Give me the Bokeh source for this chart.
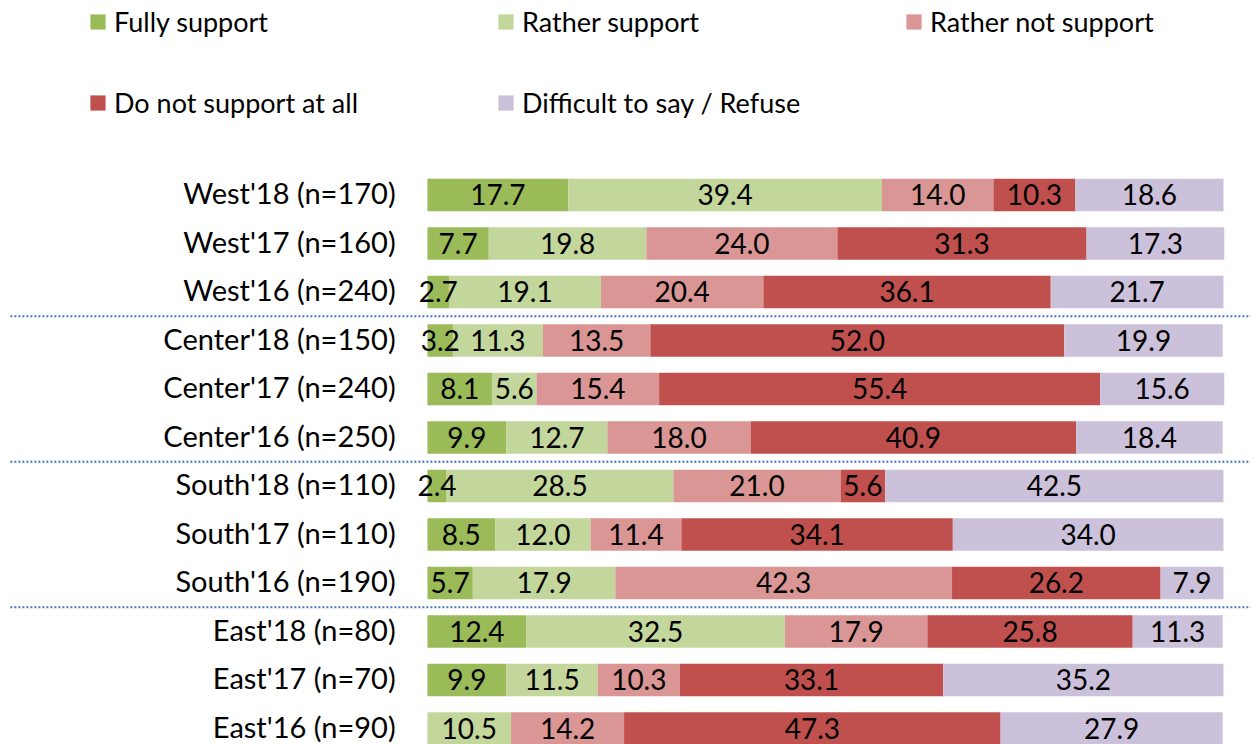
from bokeh.plotting import figure
from bokeh.models import ColumnDataSource, Range1d, Legend, LegendItem
from bokeh.core.properties import value
from bokeh.embed import file_html
from bokeh.resources import INLINE

categories = ["West'18 (n=170)", "West'17 (n=160)", "West'16 (n=240)",
              "Center'18 (n=150)", "Center'17 (n=240)", "Center'16 (n=250)",
              "South'18 (n=110)", "South'17 (n=110)", "South'16 (n=190)",
              "East'18 (n=80)", "East'17 (n=70)", "East'16 (n=90)"]
series = ["Fully support", "Rather support", "Rather not support",
          "Do not support at all", "Difficult to say / Refuse"]
fully = [17.7, 7.7, 2.7, 3.2, 8.1, 9.9, 2.4, 8.5, 5.7, 12.4, 9.9, 0.0]
rather = [39.4, 19.8, 19.1, 11.3, 5.6, 12.7, 28.5, 12.0, 17.9, 32.5, 11.5, 10.5]
rather_not = [14.0, 24.0, 20.4, 13.5, 15.4, 18.0, 21.0, 11.4, 42.3, 17.9, 10.3, 14.2]
not_at_all = [10.3, 31.3, 36.1, 52.0, 55.4, 40.9, 5.6, 34.1, 26.2, 25.8, 33.1, 47.3]
difficult = [18.6, 17.3, 21.7, 19.9, 15.6, 18.4, 42.5, 34.0, 7.9, 11.3, 35.2, 27.9]
colors = ["#9BBB59", "#C3D69B", "#D99694", "#C0504D", "#CCC1DA"]
group_breaks = [2.5, 5.5, 8.5]

FONT = "Lato"
values = [fully, rather, rather_not, not_at_all, difficult]
ypos = list(range(len(categories)))

data = {"y": ypos, "cat": categories}
keys = []
for i, v in enumerate(values):
    k = f"s{i}"
    keys.append(k)
    data[k] = v
src = ColumnDataSource(data)

p = figure(width=1256, height=744, output_backend="svg", toolbar_location=None,
           x_range=Range1d(-53.64, 104.15), y_range=Range1d(11.33, -4.01),
           min_border=0, x_axis_location=None, y_axis_location=None)
p.grid.visible = False
p.outline_line_color = None
p.background_fill_color = "white"

renderers = p.hbar_stack(keys, y="y", height=0.67, color=colors, source=src, line_width=0)

# data labels
lx, ly, lt = [], [], []
for j in range(len(categories)):
    left = 0.0
    for v in values:
        val = v[j]
        if val > 0:
            lx.append(left + val / 2)
            ly.append(j)
            lt.append(f"{val:.1f}")
        left += val
p.text(x=lx, y=ly, text=lt, text_align="center", text_baseline="middle",
       text_font=value(FONT), text_font_size="28px", text_color="black")

# category labels
p.text(x=[-4.0] * len(categories), y=ypos, text=categories, text_align="right",
       text_baseline="middle", y_offset=-2, text_font=value(FONT),
       text_font_size="29px", text_color="black")

# group separators (dotted)
n = len(group_breaks)
p.segment(x0=[-52.4] * n, x1=[103.4] * n, y0=group_breaks, y1=group_breaks,
          line_color="#4472C4", line_width=2, line_dash="2 2")

items = [LegendItem(label=s, renderers=[r]) for s, r in zip(series, renderers)]
legend = Legend(items=items, ncols=3, location=(88, 625), orientation="horizontal",
                glyph_width=19, glyph_height=19, label_standoff=7,
                label_width=334, label_height=24, spacing=48, padding=0, margin=0,
                border_line_alpha=0, background_fill_alpha=0,
                label_text_font=FONT, label_text_font_size="27px",
                label_text_color="black")
p.add_layout(legend, "center")

open("out.html", "w").write(file_html(p, INLINE))
